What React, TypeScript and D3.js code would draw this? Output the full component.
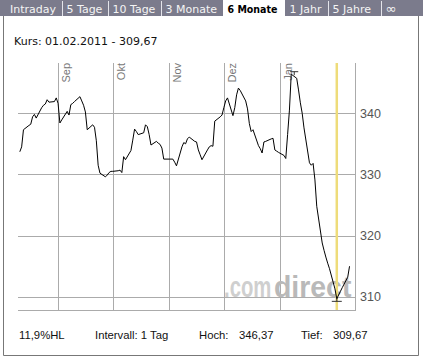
import React from "react";
import * as d3 from "d3";

// ---------- data ----------
const tabs = ["Intraday", "5 Tage", "10 Tage", "3 Monate", "6 Monate", "1 Jahr", "5 Jahre", "∞"];
const activeTab = "6 Monate";

const dates = [
  "2010-08-11", "2010-08-12", "2010-08-13", "2010-08-16", "2010-08-17", "2010-08-18", "2010-08-19", "2010-08-20",
  "2010-08-23", "2010-08-24", "2010-08-25", "2010-08-26", "2010-08-27", "2010-08-30", "2010-08-31", "2010-09-01",
  "2010-09-02", "2010-09-03", "2010-09-06", "2010-09-07", "2010-09-08", "2010-09-09", "2010-09-10", "2010-09-13",
  "2010-09-14", "2010-09-15", "2010-09-16", "2010-09-17", "2010-09-20", "2010-09-21", "2010-09-22", "2010-09-23",
  "2010-09-24", "2010-09-27", "2010-09-28", "2010-09-29", "2010-09-30", "2010-10-01", "2010-10-04", "2010-10-05",
  "2010-10-06", "2010-10-07", "2010-10-08", "2010-10-11", "2010-10-12", "2010-10-13", "2010-10-14", "2010-10-15",
  "2010-10-18", "2010-10-19", "2010-10-20", "2010-10-21", "2010-10-22", "2010-10-25", "2010-10-26", "2010-10-27",
  "2010-10-28", "2010-10-29", "2010-11-01", "2010-11-02", "2010-11-03", "2010-11-04", "2010-11-05", "2010-11-08",
  "2010-11-09", "2010-11-10", "2010-11-11", "2010-11-12", "2010-11-15", "2010-11-16", "2010-11-17", "2010-11-18",
  "2010-11-19", "2010-11-22", "2010-11-23", "2010-11-24", "2010-11-25", "2010-11-26", "2010-11-29", "2010-11-30",
  "2010-12-01", "2010-12-02", "2010-12-03", "2010-12-06", "2010-12-07", "2010-12-08", "2010-12-09", "2010-12-10",
  "2010-12-13", "2010-12-14", "2010-12-15", "2010-12-16", "2010-12-17", "2010-12-20", "2010-12-21", "2010-12-22",
  "2010-12-23", "2010-12-24", "2010-12-27", "2010-12-28", "2010-12-29", "2010-12-30", "2010-12-31", "2011-01-03",
  "2011-01-04", "2011-01-05", "2011-01-06", "2011-01-07", "2011-01-10", "2011-01-11", "2011-01-12", "2011-01-13",
  "2011-01-14", "2011-01-17", "2011-01-18", "2011-01-19", "2011-01-20", "2011-01-21", "2011-01-24", "2011-01-25",
  "2011-01-26", "2011-01-27", "2011-01-28", "2011-01-31", "2011-02-01", "2011-02-02", "2011-02-03", "2011-02-04",
  "2011-02-07", "2011-02-08",
];

const closes = [
  333.7, 334.5, 337.3, 338.0, 338.2, 339.4, 339.8, 339.2,
  340.9, 341.3, 341.5, 342.2, 341.8, 341.9, 342.5, 341.6,
  338.4, 338.9, 340.3, 339.7, 341.4, 341.6, 341.9, 342.7,
  342.0, 341.3, 340.2, 337.3, 338.1, 337.7, 335.5, 331.5,
  330.2, 329.6, 329.9, 330.3, 330.5, 330.5, 330.6, 330.7,
  330.3, 332.9, 332.4, 333.9, 335.6, 337.4, 337.0, 336.5,
  336.8, 338.1, 337.8, 336.5, 334.8, 335.4, 335.1, 334.9,
  334.3, 332.5, 332.5, 332.5, 332.5, 332.0, 331.4, 334.5,
  335.2, 335.0, 335.8, 336.1, 335.4, 335.3, 334.0, 333.2,
  332.4, 334.0, 334.5, 334.7, 334.6, 338.7, 339.4, 339.7,
  340.9, 342.0, 342.5, 339.6, 340.9, 343.0, 344.1, 343.7,
  342.0, 340.7, 338.3, 337.0, 337.3, 334.7, 334.2, 333.5,
  335.3, 335.4, 335.8, 335.9, 334.0, 333.8, 333.6, 333.1,
  332.6, 336.5, 340.5, 346.37, 345.7, 343.8, 341.7, 340.0,
  337.6, 331.9, 331.5, 331.8, 329.1, 324.8, 318.8, 317.6,
  316.5, 315.5, 314.6, 311.3, 309.67, 310.3, 310.9, 311.5,
  313.2, 315.0,
];

const monthTickDates = ["2010-09-01", "2010-10-01", "2010-11-01", "2010-12-01", "2011-01-01"];
const monthTickLabels = ["Sep", "Okt", "Nov", "Dez", "Jan"];
const priceTicks = [310, 320, 330, 340];
const cursorDate = "2011-02-01";

const headerText = "Kurs: 01.02.2011 - 309,67";
const footerRange = "11,9%HL";
const footerInterval = "Intervall: 1 Tag";
const highLabel = "Hoch:";
const highValue = "346,37";
const lowLabel = "Tief:";
const lowValue = "309,67";
const watermarkA = ".com";
const watermarkB = "direct";

// ---------- layout ----------
const W = 423;
const H = 361;
const tabEdges = [0, 62, 108, 161, 223, 285, 328, 381, 423];
const plot = { left: 18, right: 355, top: 63, bottom: 310 };

const parse = d3.timeParse("%Y-%m-%d");

export default function App() {
  const pts = dates.map((d, i) => ({ date: parse(d) as Date, v: closes[i] }));

  const x = d3
    .scaleTime()
    .domain([parse("2010-08-10") as Date, parse("2011-02-11") as Date])
    .range([plot.left, plot.right]);
  const y = d3.scaleLinear().domain([307.85, 348.2]).range([plot.bottom, plot.top]);

  const line = d3
    .line<{ date: Date; v: number }>()
    .x((d) => x(d.date))
    .y((d) => y(d.v));

  const hi = pts.reduce((a, b) => (b.v > a.v ? b : a));
  const lo = pts.reduce((a, b) => (b.v < a.v ? b : a));
  const cx = x(parse(cursorDate) as Date);

  const sans = "'Liberation Sans', Arial, sans-serif";
  const verd = "'DejaVu Sans', Verdana, sans-serif";
  const grid = "#ababab";
  const snap = (v: number) => Math.round(v) + 0.5;

  return (
    <svg width={W} height={H} style={{ position: "absolute", left: 0, top: 0, background: "#fff" }}>
      {/* tab bar */}
      <rect x={0} y={0} width={W} height={16} fill="#7b7b8c" />
      {tabs.map((t, i) => {
        const x0 = tabEdges[i];
        const x1 = tabEdges[i + 1];
        const active = t === activeTab;
        return (
          <g key={t}>
            {active && <rect x={x0} y={0} width={x1 - x0} height={18} fill="#fff" />}
            {i > 0 && !active && tabs[i - 1] !== activeTab && (
              <line x1={x0 + 0.5} x2={x0 + 0.5} y1={1} y2={16} stroke="#e4e4ea" strokeWidth={1} />
            )}
            <text
              x={i === 0 ? 10 : x0 + 4.5}
              y={12.5}
              fontFamily={verd}
              fontSize={active ? 10.5 : t === "∞" ? 13 : 11}
              fontWeight={active ? "bold" : "normal"}
              fill={active ? "#000" : "#f4f4f4"}
              {...(active ? { textLength: 50, lengthAdjust: "spacingAndGlyphs" } : {})}
            >
              {t}
            </text>
          </g>
        );
      })}

      {/* frame */}
      <path d={`M3.5,16 V355.5 H418.5 V16`} fill="none" stroke="#777" strokeWidth={1} />

      {/* header */}
      <text x={14} y={45} fontFamily={verd} fontSize={11} fill="#111">
        {headerText}
      </text>

      {/* grid horizontal */}
      {priceTicks.map((p) => (
        <line key={p} x1={plot.left} x2={plot.right} y1={snap(y(p))} y2={snap(y(p))} stroke={grid} strokeWidth={1} />
      ))}
      <line x1={plot.left} x2={plot.right + 1} y1={plot.bottom + 0.5} y2={plot.bottom + 0.5} stroke={grid} />
      <line x1={plot.right + 0.5} x2={plot.right + 0.5} y1={plot.top} y2={plot.bottom} stroke={grid} />

      {/* grid vertical + month labels */}
      {monthTickDates.map((d, i) => {
        const gx = snap(x(parse(d) as Date));
        return (
          <g key={d}>
            <line x1={gx} x2={gx} y1={plot.top} y2={plot.bottom} stroke={grid} strokeWidth={1} />
            <text
              transform={`translate(${gx + 11.5},${plot.top}) rotate(-90)`}
              textAnchor="end"
              fontFamily={sans}
              fontSize={11}
              fill="#777"
            >
              {monthTickLabels[i]}
            </text>
          </g>
        );
      })}

      {/* price labels */}
      {priceTicks.map((p) => (
        <text key={"l" + p} x={360} y={y(p) + 4.5} fontFamily={sans} fontSize={12.5} fill="#555">
          {p}
        </text>
      ))}

      {/* watermark */}
      <text transform="translate(224,297) scale(0.7,1)" fontFamily={sans} fontSize={29} fontWeight="bold" fill="#cfcfcf">
        {watermarkA}
      </text>
      <text transform="translate(274,297) scale(0.98,1)" fontFamily={sans} fontSize={29} fontWeight="bold" fill="#b9b9b9">
        {watermarkB}
      </text>

      {/* cursor */}
      <line x1={cx} x2={cx} y1={plot.top} y2={plot.bottom} stroke="#eedc7a" strokeWidth={2.5} />

      {/* price line */}
      <path d={line(pts) || ""} fill="none" stroke="#000" strokeWidth={1} />

      {/* high / low markers */}
      <line x1={x(hi.date) - 1} x2={x(hi.date) + 7} y1={y(hi.v) - 2.5} y2={y(hi.v) - 2.5} stroke="#333" />
      <line x1={x(hi.date) + 3} x2={x(hi.date) + 3} y1={y(hi.v) - 2.5} y2={y(hi.v) + 1} stroke="#333" />
      <line x1={x(lo.date) - 5} x2={x(lo.date) + 5} y1={y(lo.v) + 2.5} y2={y(lo.v) + 2.5} stroke="#333" />
      <line x1={x(lo.date)} x2={x(lo.date)} y1={y(lo.v) - 1} y2={y(lo.v) + 2.5} stroke="#333" />

      {/* footer */}
      <g fontFamily={sans} fontSize={11.3} fill="#111">
        <text x={19} y={338.5}>{footerRange}</text>
        <text x={95} y={338.5}>{footerInterval}</text>
        <text x={199} y={338.5}>{highLabel}</text>
        <text x={239} y={338.5}>{highValue}</text>
        <text x={301} y={338.5}>{lowLabel}</text>
        <text x={333} y={338.5}>{lowValue}</text>
      </g>
    </svg>
  );
}
